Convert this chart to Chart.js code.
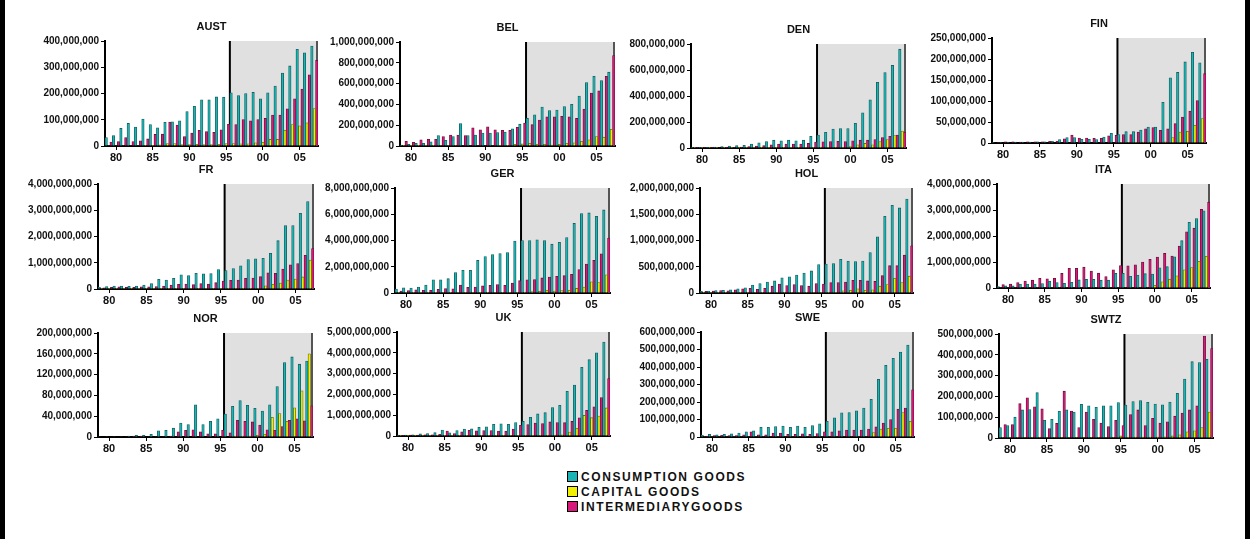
<!DOCTYPE html>
<html>
<head>
<meta charset="utf-8">
<script src="https://cdn.jsdelivr.net/npm/chart.js@4.4.0/dist/chart.umd.min.js"></script>
<style>
  body { margin: 0; width: 1260px; height: 539px; background: #fff; position: relative; overflow: hidden;
         font-family: 'Liberation Sans', Arial, sans-serif; }
  canvas { position: absolute; }
  .bordaEsq { position: absolute; left: 0; top: 0; width: 5px; height: 539px; background: #000; }
  .bordaDir { position: absolute; left: 1245px; top: 0; width: 5px; height: 539px; background: #000; }
  #legenda { position: absolute; left: 567px; top: 470px; font-weight: bold; font-size: 12px; color: #111; }
  #legenda div { height: 15px; line-height: 15px; letter-spacing: 1.6px; white-space: nowrap; }
  #legenda span { display: inline-block; width: 9px; height: 9px; border: 1px solid #000; margin-right: 3px; vertical-align: -1px; }
</style>
</head>
<body>
<div class="bordaEsq"></div>
<div class="bordaDir"></div>
<div id="legenda"></div>

<script>
// anos 1979 a 2007
const anos = ['1979','1980','1981','1982','1983','1984','1985','1986','1987','1988','1989','1990','1991','1992','1993',
              '1994','1995','1996','1997','1998','1999','2000','2001','2002','2003','2004','2005','2006','2007'];
const inicioSombra = '1996'; // área cinza a partir daqui

const paises = ['AUST','BEL','DEN','FIN','FR','GER','HOL','ITA','NOR','UK','SWE','SWTZ'];
const maxEixo = [400e6, 1000e6, 800e6, 250e6, 4000e6, 8000e6, 2000e6, 4000e6, 200e6, 5000e6, 600e6, 500e6];
const passoEixo = [100e6, 200e6, 200e6, 50e6, 1000e6, 2000e6, 500e6, 1000e6, 40e6, 1000e6, 100e6, 100e6];

const series = ['CONSUMPTION GOODS', 'CAPITAL GOODS', 'INTERMEDIARYGOODS'];

// valores em milhões
const austConsumo = [32,40,67,86,72,103,82,69,90,92,96,131,151,176,176,187,186,203,192,200,204,180,203,228,278,305,368,355,381];
const austCapital = [2,2,2,2,2,3,3,4,9,9,5,5,6,5,5,6,9,9,8,8,12,14,25,25,60,82,77,88,143];
const austInterm = [15,17,32,17,20,27,44,45,91,80,36,49,60,55,52,62,83,82,101,96,101,105,118,118,142,180,217,271,326];

const belConsumo = [10,15,25,25,40,100,55,90,215,100,105,125,125,130,135,165,210,265,300,375,340,345,380,400,480,610,670,630,710];
const belCapital = [3,3,3,3,3,4,4,4,5,5,5,5,5,6,6,15,20,25,15,15,10,15,25,30,45,60,90,85,160];
const belInterm = [45,35,60,65,65,90,105,105,100,175,155,185,155,150,150,180,220,205,250,280,280,285,280,265,355,510,530,670,870];

const denConsumo = [2,3,5,8,10,15,18,20,30,40,50,60,55,60,55,60,90,100,120,145,150,150,190,270,370,505,580,635,760];
const denCapital = [1,1,1,1,1,1,2,2,2,2,2,2,2,2,2,3,3,3,3,3,3,10,25,35,25,50,65,95,130];
const denInterm = [2,2,3,4,5,6,8,10,15,18,25,30,30,30,30,35,45,48,50,52,50,55,60,60,65,80,90,100,120];

const finConsumo = [1,1,2,2,2,2,3,3,4,8,13,13,9,9,8,14,23,20,27,27,31,38,38,97,155,168,193,216,191];
const finCapital = [0,0,0,0,0,0,0,0,0,0,0,0,0,0,0,0,0,1,1,2,2,2,2,3,13,26,28,42,58];
const finInterm = [1,3,3,2,3,3,3,4,4,10,19,12,12,11,11,17,18,20,20,26,34,37,30,34,46,62,76,101,165];

const frConsumo = [65,90,110,115,100,115,150,210,370,340,410,540,510,600,580,590,740,700,780,880,1120,1150,1170,1360,1840,2420,2420,2880,3330];
const frCapital = [8,8,8,8,8,8,8,8,10,10,10,10,10,10,10,10,12,12,12,12,12,30,120,180,230,340,380,460,1100];
const frInterm = [40,60,80,60,60,80,80,90,110,150,180,190,170,210,190,240,300,330,340,410,420,470,620,600,760,920,970,1280,1540];

const gerConsumo = [300,390,380,460,610,1000,1000,1090,1560,1730,1730,2480,2780,2930,3000,3080,3960,4000,4000,4050,4000,3720,3860,4220,5300,6050,6100,5850,6330];
const gerCapital = [30,30,30,30,30,30,30,30,30,30,30,30,30,30,30,30,30,50,100,120,200,150,180,200,350,450,850,800,1380];
const gerInterm = [150,180,250,200,200,280,340,320,600,430,450,540,590,640,580,760,940,1010,1030,1150,1210,1270,1320,1430,1790,2200,2480,2980,4180];

const holConsumo = [30,35,45,50,60,80,100,150,180,210,230,290,310,340,380,420,540,550,560,640,610,600,610,770,1070,1460,1670,1620,1790];
const holCapital = [5,5,5,5,5,5,5,5,5,5,5,5,5,5,5,5,5,5,5,40,50,80,50,60,130,160,280,200,320];
const holInterm = [30,35,45,40,60,80,90,70,90,130,170,140,160,140,130,180,170,200,200,210,240,240,230,220,330,520,520,720,900];

const itaConsumo = [50,80,80,150,150,150,170,260,210,180,220,310,330,330,300,300,560,560,450,490,550,540,780,820,1200,1820,2530,2670,2970];
const itaCapital = [20,20,20,20,20,20,20,20,20,20,20,20,20,20,20,20,20,20,20,20,20,100,240,340,470,700,790,1030,1220];
const itaInterm = [130,150,210,270,300,370,350,370,560,760,760,800,650,570,440,700,860,850,890,1000,1100,1190,1330,1230,1610,2160,2300,3030,3300];

const norConsumo = [1,1,1,1,2,3,3,5,12,13,17,27,24,62,24,30,35,44,59,70,61,55,50,62,97,143,154,140,146];
const norCapital = [0,0,0,0,0,0,0,0,0,0,0,0,0,0,0,0,0,0,2,2,2,3,5,38,45,30,56,89,160];
const norInterm = [0,0,0,1,2,2,1,1,1,2,10,13,14,10,6,6,13,8,32,30,29,23,14,13,20,32,35,31,60];

const ukConsumo = [40,50,60,100,120,160,290,150,260,330,340,420,440,560,590,560,650,700,900,1060,1120,1370,1480,2150,2450,3300,3670,4000,4520];
const ukCapital = [10,10,10,10,10,10,10,10,10,10,10,10,10,10,10,10,10,10,10,10,10,40,60,190,370,990,880,960,1350];
const ukInterm = [30,50,50,60,60,80,240,120,200,270,250,260,260,240,240,330,510,550,620,600,680,650,640,700,870,1230,1400,1850,2760];

const sweConsumo = [10,15,12,15,18,22,30,35,55,55,60,62,55,62,55,65,75,90,110,138,140,150,165,215,330,410,450,485,525];
const sweCapital = [3,3,3,3,3,3,3,3,3,3,3,3,3,3,3,3,3,3,3,3,3,3,3,25,45,50,50,140,90];
const sweInterm = [5,8,10,8,8,12,30,12,12,22,22,15,15,18,15,20,30,30,35,40,40,40,45,58,80,100,160,165,270];

const swtzConsumo = [50,60,100,135,137,218,85,90,128,135,125,162,155,148,155,155,170,158,175,180,172,163,160,173,215,283,367,363,378];
const swtzCapital = [2,2,2,2,2,2,2,2,2,2,2,2,2,2,2,2,10,5,5,4,4,5,6,10,15,30,35,50,125];
const swtzInterm = [65,65,165,193,150,140,45,70,225,130,50,125,90,72,55,85,60,113,135,60,95,72,78,105,120,135,155,490,430];

const dadosPaises = [
  [austConsumo, austCapital, austInterm],
  [belConsumo, belCapital, belInterm],
  [denConsumo, denCapital, denInterm],
  [finConsumo, finCapital, finInterm],
  [frConsumo, frCapital, frInterm],
  [gerConsumo, gerCapital, gerInterm],
  [holConsumo, holCapital, holInterm],
  [itaConsumo, itaCapital, itaInterm],
  [norConsumo, norCapital, norInterm],
  [ukConsumo, ukCapital, ukInterm],
  [sweConsumo, sweCapital, sweInterm],
  [swtzConsumo, swtzCapital, swtzInterm]
];

// posição da área de plotagem de cada painel: [esquerda, topo, direita, base]
const caixas = [
  [105, 41, 318, 146], [400, 42, 615, 146], [691, 44, 906, 148], [992, 38, 1206, 143],
  [98, 184, 314, 289], [395, 188, 610, 293], [700, 188, 913, 293], [997, 184, 1210, 288],
  [98, 333, 313, 437], [397, 332, 610, 436], [701, 332, 914, 437], [999, 334, 1213, 438]
];

const cores = ['#1ab4b4', '#f0f000', '#d8187a'];
const coresBorda = ['#145e5e', '#70700a', '#6a0f3a'];

Chart.defaults.font.family = "'Liberation Sans', Arial, sans-serif";
Chart.defaults.font.weight = 'bold';
Chart.defaults.color = '#111';

const pluginSombra = {
  id: 'sombra',
  beforeDatasetsDraw(chart) {
    const { ctx, chartArea: a, scales: { x } } = chart;
    const i0 = anos.indexOf(inicioSombra);
    const xs = (x.getPixelForValue(i0 - 1) + x.getPixelForValue(i0)) / 2;
    ctx.save();
    ctx.fillStyle = '#e0e0e0';
    ctx.fillRect(xs, a.top, a.right - xs, a.bottom - a.top - 1);
    ctx.lineWidth = 2;
    ctx.strokeStyle = '#000';
    ctx.beginPath(); ctx.moveTo(xs, a.top); ctx.lineTo(xs, a.bottom); ctx.stroke();
    ctx.strokeStyle = '#555';
    ctx.beginPath(); ctx.moveTo(a.right - 1, a.top); ctx.lineTo(a.right - 1, a.bottom); ctx.stroke();
    ctx.restore();
  },
  afterDraw(chart) {
    const { ctx, chartArea: a } = chart;
    ctx.save();
    ctx.font = "bold 11px 'Liberation Sans', Arial, sans-serif";
    ctx.fillStyle = '#111';
    ctx.textAlign = 'center';
    ctx.textBaseline = 'middle';
    ctx.fillText(chart.options.plugins.titulo, (a.left + a.right) / 2, a.top - 14);
    ctx.restore();
  }
};

const padE = 100, padT = 30, padD = 6, padB = 22;

function criarPainel(i) {
  const [l, t, r, b] = caixas[i];
  const canvas = document.createElement('canvas');
  canvas.width = (r - l) + padE + padD;
  canvas.height = (b - t) + padT + padB;
  canvas.style.left = (l - padE) + 'px';
  canvas.style.top = (t - padT) + 'px';
  document.body.appendChild(canvas);

  const datasets = series.map((nome, s) => ({
    label: nome,
    data: dadosPaises[i][s].map(v => v * 1e6),
    backgroundColor: cores[s],
    borderColor: coresBorda[s],
    borderWidth: 0.8,
    categoryPercentage: 1.0,
    barPercentage: 1.0
  }));

  new Chart(canvas, {
    type: 'bar',
    data: { labels: anos, datasets },
    options: {
      responsive: false,
      animation: false,
      layout: { padding: { top: padT, right: padD, left: 0, bottom: 0 } },
      plugins: { legend: { display: false }, tooltip: { enabled: false }, titulo: paises[i] },
      scales: {
        x: {
          afterFit: s => { s.height = padB; },
          border: { color: '#000', width: 2 },
          grid: {
            offset: false, drawOnChartArea: false, tickLength: 4,
            color: c => (+anos[c.index] % 5 === 0 ? '#000' : 'rgba(0,0,0,0)')
          },
          ticks: {
            autoSkip: false, maxRotation: 0, padding: 1,
            font: { size: 11, weight: 'bold' },
            callback: (v, idx) => (+anos[idx] % 5 === 0 ? anos[idx].slice(2) : '')
          }
        },
        y: {
          min: 0, max: maxEixo[i],
          afterFit: s => { s.width = padE; },
          border: { color: '#000', width: 2 },
          grid: { drawOnChartArea: false, tickLength: 4, color: '#000' },
          ticks: {
            stepSize: passoEixo[i], padding: 2,
            font: { size: 10, weight: 'bold' },
            callback: v => v.toLocaleString('en-US')
          }
        }
      }
    },
    plugins: [pluginSombra]
  });
}

paises.forEach((p, i) => criarPainel(i));

// legenda
const legenda = document.getElementById('legenda');
series.forEach((nome, s) => {
  const linha = document.createElement('div');
  const quad = document.createElement('span');
  quad.style.background = cores[s];
  linha.appendChild(quad);
  linha.appendChild(document.createTextNode(nome));
  legenda.appendChild(linha);
});
</script>
</body>
</html>
